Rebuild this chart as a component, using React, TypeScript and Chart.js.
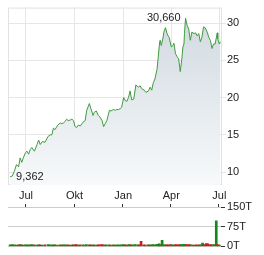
import React, { useEffect, useRef } from "react";
import { Chart, registerables } from "chart.js";

Chart.register(...registerables);

// x values: days since 2023-07-01
const DAYS = [
  -30, -26, -22, -18, -14, -11, -8, -5, -1, 2,
  5, 8, 11, 16, 21, 24, 27, 31, 36, 42,
  46, 49, 52, 55, 60, 65, 68, 71, 74, 77,
  80, 84, 87, 90, 93, 96, 99, 103, 108, 112,
  115, 120, 123, 127, 129, 133, 137, 140, 144, 147,
  150, 153, 158, 161, 166, 169, 172, 175, 178, 181,
  185, 188, 191, 194, 197, 200, 204, 208, 213, 216,
  219, 224, 227, 232, 235, 238, 241, 244, 248, 250,
  253, 254, 256, 259, 261, 264, 267, 269, 271, 275,
  278, 280, 283, 286, 289, 292, 295, 297, 299, 300,
  302, 305, 308, 311, 314, 318, 321, 324, 327, 330,
  333, 336, 339, 343, 346, 349, 352, 355, 358, 362,
  363, 366, 368,
];

const PRICES = [
  9.362, 9.45, 10.1, 11.0, 10.7, 11.9, 11.3, 11.9, 12.6, 12.8,
  12.4, 13.0, 13.3, 12.8, 13.7, 14.3, 13.7, 14.1, 14.0, 14.8,
  15.0, 15.0, 15.9, 15.7, 16.3, 16.6, 16.5, 16.6, 16.8, 17.1,
  16.9, 17.0, 17.1, 16.9, 16.1, 16.0, 16.3, 16.2, 16.7, 16.9,
  18.3, 19.2, 18.5, 17.6, 18.0, 18.2, 17.6, 17.4, 16.9, 16.1,
  16.5, 16.9, 18.3, 18.2, 18.4, 18.3, 18.4, 18.4, 18.5, 18.7,
  20.0, 19.6, 19.5, 20.0, 20.9, 19.7, 19.8, 21.7, 21.4, 21.6,
  21.2, 21.0, 20.7, 20.9, 21.4, 21.0, 22.0, 22.5, 23.8, 25.2,
  27.5, 27.7, 27.0, 27.9, 28.8, 29.4, 28.6, 28.3, 28.1, 26.8,
  27.0, 27.3, 25.9, 25.5, 25.2, 23.5, 25.2, 26.8, 27.2, 28.6,
  30.66, 29.7, 29.2, 27.7, 28.8, 28.6, 28.7, 28.3, 28.6, 27.5,
  28.1, 29.5, 29.4, 28.8, 28.1, 27.7, 26.6, 27.2, 27.2, 28.7,
  27.9, 27.2, 27.5,
];

// volume in thousands (T)
const VOLUMES = [
  6, 7, 6, 5, 6, 7, 6, 5, 6, 6,
  5, 6, 7, 6, 5, 6, 6, 5, 6, 7,
  6, 5, 6, 6, 5, 6, 5, 6, 6, 5,
  6, 5, 5, 6, 6, 7, 5, 6, 6, 5,
  7, 6, 6, 5, 6, 5, 6, 6, 7, 6,
  5, 6, 6, 5, 6, 5, 5, 6, 5, 6,
  7, 6, 5, 6, 7, 6, 6, 7, 6, 6,
  19, 6, 5, 6, 6, 5, 7, 6, 7, 7,
  10, 6, 6, 23, 7, 6, 6, 5, 6, 7,
  6, 5, 6, 7, 5, 7, 7, 6, 6, 7,
  7, 7, 6, 7, 6, 5, 5, 6, 5, 6,
  6, 13, 7, 11, 10, 6, 7, 6, 7, 97,
  7, 6, 5,
];

const X_TICK_DAYS = [0, 92, 184, 275, 366];
const X_TICK_LABELS = ["Jul", "Okt", "Jan", "Apr", "Jul"];
const Y_TICKS = [10, 15, 20, 25, 30];
const VOL_TICKS = [0, 75, 150];
const VOL_TICK_LABELS = ["0T", "75T", "150T"];

const X_MIN = -34;
const X_MAX = 371;
const FONT = { family: "'Liberation Sans', Arial, sans-serif", size: 11 };
const TEXT = "#222";

const fmt = (v: number) => v.toFixed(3).replace(".", ",");

const framePlugin = {
  id: "frame",
  beforeDatasetsDraw(chart: any) {
    const { ctx, chartArea: a } = chart;
    ctx.save();
    ctx.strokeStyle = "#e2e2e2";
    ctx.lineWidth = 1;
    ctx.strokeRect(a.left + 0.5, a.top + 0.5, a.right - a.left - 1, a.bottom - a.top - 1);
    ctx.restore();
  },
};

const extremesPlugin = {
  id: "extremes",
  afterDatasetsDraw(chart: any) {
    const meta = chart.getDatasetMeta(0);
    let iMax = 0;
    let iMin = 0;
    PRICES.forEach((p, i) => {
      if (p > PRICES[iMax]) iMax = i;
      if (p < PRICES[iMin]) iMin = i;
    });
    const { ctx } = chart;
    ctx.save();
    ctx.font = `${FONT.size}px ${FONT.family}`;
    ctx.fillStyle = TEXT;
    ctx.textBaseline = "middle";
    const pMax = meta.data[iMax];
    ctx.textAlign = "right";
    ctx.fillText(fmt(PRICES[iMax]), pMax.x - 5, pMax.y);
    const pMin = meta.data[iMin];
    ctx.textAlign = "left";
    ctx.fillText(fmt(PRICES[iMin]), pMin.x + 6, pMin.y);
    ctx.restore();
  },
};

export default function App() {
  const mainRef = useRef<HTMLCanvasElement>(null);
  const volRef = useRef<HTMLCanvasElement>(null);

  useEffect(() => {
    const main = new Chart(mainRef.current as HTMLCanvasElement, {
      type: "line",
      data: {
        datasets: [
          {
            data: DAYS.map((d, i) => ({ x: d, y: PRICES[i] })),
            borderColor: "#3f9b3f",
            borderWidth: 1,
            pointRadius: 0,
            tension: 0,
            fill: "start",
            backgroundColor: (c: any) => {
              const a = c.chart.chartArea;
              if (!a) return "rgba(0,0,0,0)";
              const g = c.chart.ctx.createLinearGradient(0, a.top, 0, a.bottom);
              g.addColorStop(0, "#cfd8df");
              g.addColorStop(1, "#f7f9fa");
              return g;
            },
          },
        ],
      },
      options: {
        animation: false,
        responsive: false,
        events: [],
        layout: { padding: { left: 8, top: 7, right: 0, bottom: 0 } },
        plugins: { legend: { display: false }, tooltip: { enabled: false } },
        scales: {
          x: {
            type: "linear",
            min: X_MIN,
            max: X_MAX,
            afterBuildTicks: (s: any) => {
              s.ticks = X_TICK_DAYS.map((v) => ({ value: v }));
            },
            afterFit: (s: any) => {
              s.height = 18;
            },
            ticks: {
              callback: (_v: any, i: number) => X_TICK_LABELS[i],
              font: FONT,
              color: TEXT,
              padding: 4,
              maxRotation: 0,
              autoSkip: false,
            },
            grid: { color: "#e6e6e6", drawTicks: false },
            border: { display: false },
          },
          y: {
            position: "right",
            min: 8.26,
            max: 32.09,
            afterBuildTicks: (s: any) => {
              s.ticks = Y_TICKS.map((v) => ({ value: v }));
            },
            afterFit: (s: any) => {
              s.width = 42;
            },
            ticks: { font: FONT, color: TEXT, padding: 1 },
            grid: { color: "#e6e6e6", tickLength: 4 },
            border: { display: false },
          },
        },
      },
      plugins: [framePlugin, extremesPlugin],
    } as any);

    const green = "#138a13";
    const red = "#c41e1e";
    const vol = new Chart(volRef.current as HTMLCanvasElement, {
      type: "bar",
      data: {
        datasets: [
          {
            data: DAYS.map((d, i) => ({ x: d, y: VOLUMES[i] })),
            backgroundColor: PRICES.map((p, i) => (i === 0 || p >= PRICES[i - 1] ? green : red)),
            barThickness: 2,
          },
        ],
      },
      options: {
        animation: false,
        responsive: false,
        events: [],
        layout: { padding: { left: 8, top: 14, right: 0, bottom: 8 } },
        plugins: { legend: { display: false }, tooltip: { enabled: false } },
        scales: {
          x: {
            type: "linear",
            position: "top",
            offset: false,
            min: X_MIN,
            max: X_MAX,
            afterBuildTicks: (s: any) => {
              s.ticks = X_TICK_DAYS.map((v) => ({ value: v }));
            },
            afterFit: (s: any) => {
              s.height = 3;
              s.paddingLeft = 0;
              s.paddingRight = 0;
            },
            ticks: { display: false },
            grid: {
              offset: false,
              drawOnChartArea: false,
              drawTicks: true,
              tickLength: 3,
              tickColor: "#333",
            },
            border: { display: false },
          },
          y: {
            position: "right",
            min: 0,
            max: 150,
            afterBuildTicks: (s: any) => {
              s.ticks = VOL_TICKS.map((v) => ({ value: v }));
            },
            afterFit: (s: any) => {
              s.width = 43;
            },
            ticks: {
              callback: (_v: any, i: number) => VOL_TICK_LABELS[i],
              font: FONT,
              color: TEXT,
              padding: 2,
            },
            grid: { color: "#cccccc", tickLength: 4, tickColor: "#333" },
            border: { display: false },
          },
        },
      },
    } as any);

    return () => {
      main.destroy();
      vol.destroy();
    };
  }, []);

  return (
    <div style={{ position: "absolute", left: 0, top: 0, width: 264, height: 255, background: "#fff" }}>
      <canvas ref={mainRef} width={264} height={203} style={{ position: "absolute", left: 0, top: 0 }} />
      <canvas ref={volRef} width={264} height={65} style={{ position: "absolute", left: 0, top: 190 }} />
    </div>
  );
}
